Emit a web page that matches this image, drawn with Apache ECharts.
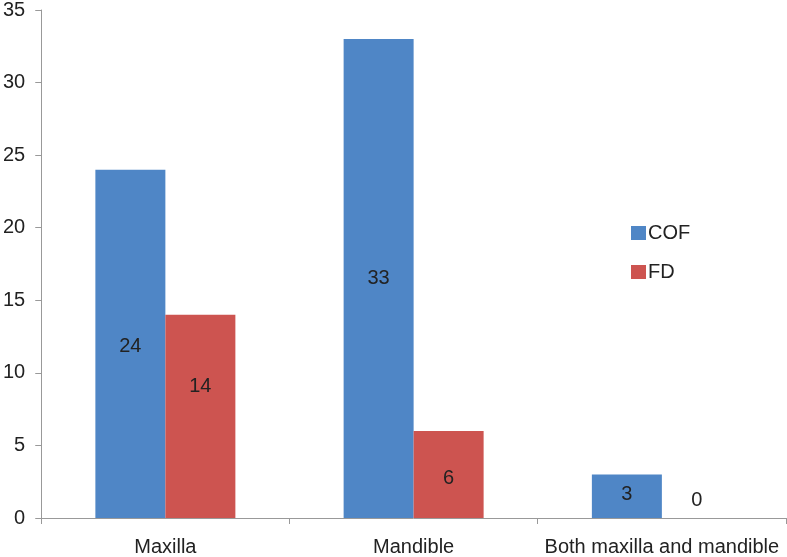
<!DOCTYPE html>
<html><head><meta charset="utf-8">
<script src="https://cdn.jsdelivr.net/npm/echarts@6/dist/echarts.min.js"></script>
<style>html,body{margin:0;padding:0;background:#fff}#c{width:787px;height:557px}</style>
</head><body><div id="c"></div>
<script>
const categories = ["Maxilla", "Mandible", "Both maxilla and mandible"];
const cofValues = [24, 33, 3];
const fdValues = [14, 6, 0];
const yTicks = {min: 0, max: 35, interval: 5};

const cofOffsets = [[0, 3], [0, 0], [0, -2]];
const fdOffsets = [[0, -30], [0, 4], [0, 0]];

const font = "Liberation Sans, Arial, sans-serif";
const fs = 20;
const chart = echarts.init(document.getElementById('c'));
chart.setOption({
  animation: false,
  backgroundColor: '#fff',
  grid: {left: 40, right: 1, top: 10, bottom: 38, containLabel: false},
  legend: {
    orient: 'vertical', left: 626, top: 218, itemWidth: 15, itemHeight: 14, itemGap: 19,
    icon: 'rect',
    textStyle: {fontFamily: font, fontSize: fs, color: '#222', padding: [0, 0, 0, -3]},
    data: ['COF', 'FD']
  },
  xAxis: {
    type: 'category', data: categories,
    axisLine: {lineStyle: {color: '#999', width: 1}},
    axisTick: {show: true, length: 6, lineStyle: {color: '#999'}},
    axisLabel: {fontFamily: font, fontSize: fs, color: '#222', margin: 19, interval: 0}
  },
  yAxis: {
    type: 'value', min: yTicks.min, max: yTicks.max, interval: yTicks.interval,
    axisLine: {show: true, lineStyle: {color: '#999', width: 1}},
    axisTick: {show: true, length: 6, lineStyle: {color: '#999'}},
    splitLine: {show: false},
    axisLabel: {fontFamily: font, fontSize: fs, color: '#222', margin: 16}
  },
  series: [
    {
      name: 'COF', type: 'bar', barWidth: 70, barGap: '0%',
      itemStyle: {color: '#4F86C6'},
      data: cofValues.map((v, i) => ({value: v, label: {offset: cofOffsets[i]}})),
      label: {show: true, position: 'inside', fontFamily: font, fontSize: fs, color: '#222'}
    },
    {
      name: 'FD', type: 'bar', barWidth: 70, barGap: '0%',
      itemStyle: {color: '#CD5450'},
      data: fdValues.map((v, i) => ({value: v,
        label: v === 0 ? {position: 'top', offset: [0, -3]} : {offset: fdOffsets[i]}})),
      label: {show: true, position: 'inside', fontFamily: font, fontSize: fs, color: '#222'}
    }
  ]
});
</script></body></html>
